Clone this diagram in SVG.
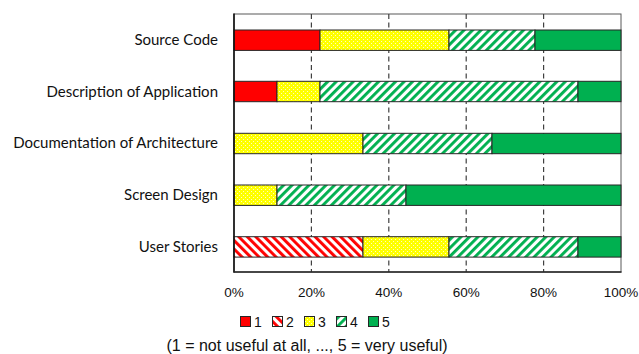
<svg xmlns="http://www.w3.org/2000/svg" width="639" height="354" viewBox="0 0 639 354">
  <defs>
    <!-- rating 2: red diagonal hatch (\) -->
    <pattern id="hatchRed" patternUnits="userSpaceOnUse" width="6" height="6" patternTransform="rotate(-45)">
      <rect width="6" height="6" fill="#ffffff"/>
      <rect width="2.9" height="6" fill="#ff0000"/>
    </pattern>
    <!-- rating 3: yellow weave -->
    <pattern id="weaveYellow" patternUnits="userSpaceOnUse" width="4" height="4">
      <rect width="4" height="4" fill="#ffff00"/>
      <rect x="1" y="1" width="1" height="1" fill="#ffffc0"/>
      <rect x="3" y="3" width="1" height="1" fill="#ffffc0"/>
    </pattern>
    <!-- rating 4: green diagonal hatch (/) -->
    <pattern id="hatchGreen" patternUnits="userSpaceOnUse" width="6" height="6" patternTransform="rotate(45)">
      <rect width="6" height="6" fill="#ffffff"/>
      <rect width="2.9" height="6" fill="#00b050"/>
    </pattern>
  </defs>
  <style>
    .seg { stroke: #262626; stroke-width: 1; }
    .r1 { fill: #ff0000; }
    .r2 { fill: url(#hatchRed); }
    .r3 { fill: url(#weaveYellow); }
    .r4 { fill: url(#hatchGreen); }
    .r5 { fill: #00b050; }
    .grid { stroke: #404040; stroke-width: 1.2; stroke-dasharray: 5 3.5; fill: none; }
    .cat { font-family: Lato, "Liberation Sans", sans-serif; font-size: 15px; fill: #111; text-anchor: end; }
    .tick { font-family: "Liberation Sans", Arial, sans-serif; font-size: 13.5px; fill: #111; text-anchor: middle; }
    .leg { font-family: "Liberation Sans", Arial, sans-serif; font-size: 14px; fill: #111; }
    .cap { font-family: "Liberation Sans", Arial, sans-serif; font-size: 16px; fill: #111; text-anchor: middle; }
  </style>

  <rect width="639" height="354" fill="#ffffff"/>

  <!-- plot frame and dashed gridlines -->
  <g id="connectors">
    <rect x="234" y="14" width="387" height="258" fill="none" stroke="#595959" stroke-width="1"/>
    <line class="grid" x1="311.4" y1="14" x2="311.4" y2="272"/>
    <line class="grid" x1="388.8" y1="14" x2="388.8" y2="272"/>
    <line class="grid" x1="466.2" y1="14" x2="466.2" y2="272"/>
    <line class="grid" x1="543.6" y1="14" x2="543.6" y2="272"/>
  </g>

  <g id="source-code">
    <text class="cat" x="218" y="45">Source Code</text>
    <rect class="seg r1" x="234" y="30" width="86" height="20.4"/>
    <rect class="seg r3" x="320" y="30" width="129" height="20.4"/>
    <rect class="seg r4" x="449" y="30" width="86" height="20.4"/>
    <rect class="seg r5" x="535" y="30" width="86" height="20.4"/>
  </g>

  <g id="description-of-application">
    <text class="cat" x="218" y="96.5">Description of Application</text>
    <rect class="seg r1" x="234" y="81.3" width="43" height="20.4"/>
    <rect class="seg r3" x="277" y="81.3" width="43" height="20.4"/>
    <rect class="seg r4" x="320" y="81.3" width="258" height="20.4"/>
    <rect class="seg r5" x="578" y="81.3" width="43" height="20.4"/>
  </g>

  <g id="documentation-of-architecture">
    <text class="cat" x="218" y="148">Documentation of Architecture</text>
    <rect class="seg r3" x="234" y="133.3" width="129" height="20.4"/>
    <rect class="seg r4" x="363" y="133.3" width="129" height="20.4"/>
    <rect class="seg r5" x="492" y="133.3" width="129" height="20.4"/>
  </g>

  <g id="screen-design">
    <text class="cat" x="218" y="199.8">Screen Design</text>
    <rect class="seg r3" x="234" y="185" width="43" height="20.4"/>
    <rect class="seg r4" x="277" y="185" width="129" height="20.4"/>
    <rect class="seg r5" x="406" y="185" width="215" height="20.4"/>
  </g>

  <g id="user-stories">
    <text class="cat" x="218" y="251.5">User Stories</text>
    <rect class="seg r2" x="234" y="236.7" width="129" height="20.4"/>
    <rect class="seg r3" x="363" y="236.7" width="86" height="20.4"/>
    <rect class="seg r4" x="449" y="236.7" width="129" height="20.4"/>
    <rect class="seg r5" x="578" y="236.7" width="43" height="20.4"/>
  </g>

  <!-- value axis -->
  <g id="axes">
    <line x1="234" y1="13.5" x2="234" y2="272.5" stroke="#111" stroke-width="1.6"/>
    <line x1="233.5" y1="272" x2="621.5" y2="272" stroke="#262626" stroke-width="1.4"/>
    <text class="tick" x="234" y="297">0%</text>
    <text class="tick" x="311.4" y="297">20%</text>
    <text class="tick" x="388.8" y="297">40%</text>
    <text class="tick" x="466.2" y="297">60%</text>
    <text class="tick" x="543.6" y="297">80%</text>
    <text class="tick" x="621" y="297">100%</text>
  </g>

  <!-- legend -->
  <g id="legend">
    <rect class="seg r1" x="240.5" y="316.5" width="10" height="10"/>
    <text class="leg" x="254" y="326.5">1</text>
    <rect class="seg r2" x="272.5" y="316.5" width="10" height="10"/>
    <text class="leg" x="286" y="326.5">2</text>
    <rect class="seg r3" x="304.5" y="316.5" width="10" height="10"/>
    <text class="leg" x="318" y="326.5">3</text>
    <rect class="seg r4" x="336.5" y="316.5" width="10" height="10"/>
    <text class="leg" x="350" y="326.5">4</text>
    <rect class="seg r5" x="368.5" y="316.5" width="10" height="10"/>
    <text class="leg" x="382" y="326.5">5</text>
  </g>

  <g id="caption">
    <text class="cap" x="307" y="350.5">(1 = not useful at all, ..., 5 = very useful)</text>
  </g>
</svg>
